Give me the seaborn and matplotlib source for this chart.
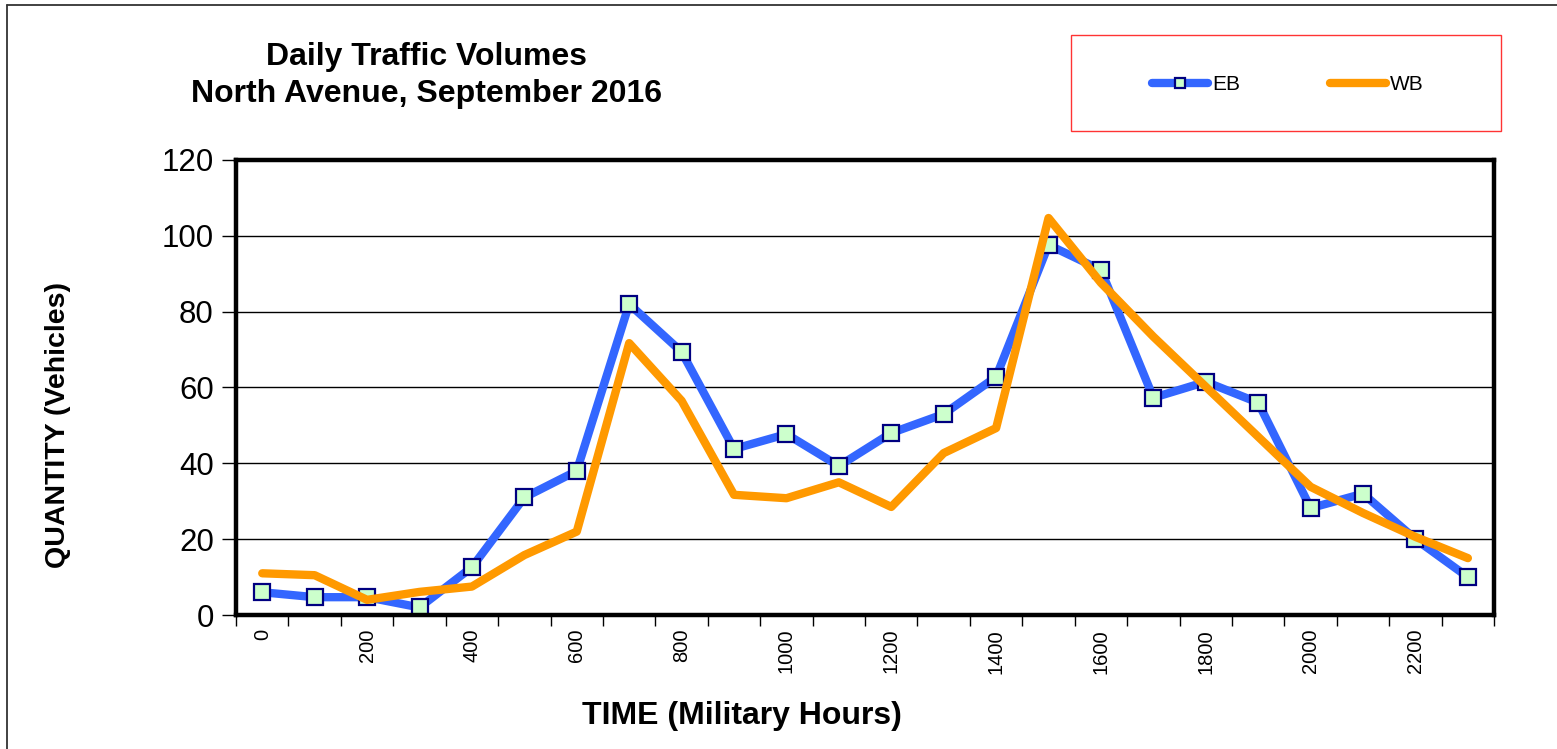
import matplotlib
matplotlib.use("Agg")
import matplotlib.pyplot as plt
from matplotlib.lines import Line2D
from matplotlib.patches import Rectangle
import numpy as np
import pandas as pd
import seaborn as sns

# hourly counts, North Avenue, Sept 2016
hours = [0, 100, 200, 300, 400, 500, 600, 700, 800, 900, 1000, 1100,
         1200, 1300, 1400, 1500, 1600, 1700, 1800, 1900, 2000, 2100, 2200, 2300]
eb = [6, 4.7, 4.7, 2, 12.6, 31, 38, 82, 69.4, 43.8, 47.7, 39.3,
      48, 53, 62.8, 97.6, 91, 57.3, 61.5, 56, 28.2, 32, 20, 10]
wb = [11, 10.5, 4, 6.1, 7.5, 15.8, 22, 71.7, 56.5, 31.7, 30.8, 35,
      28.5, 42.7, 49.3, 104.7, 87.6, 73.4, 60.2, 47, 33.8, 26.9, 20.6, 15]
label_hours = [0, 200, 400, 600, 800, 1000, 1200, 1400, 1600, 1800, 2000, 2200]
y_ticks = [0, 20, 40, 60, 80, 100, 120]

df = pd.DataFrame({"hour": hours, "EB": eb, "WB": wb})

sns.set_style("white")
plt.rcParams['font.family'] = ['Liberation Sans', 'DejaVu Sans']
plt.rcParams['text.color'] = 'black'
plt.rcParams['xtick.color'] = 'black'
plt.rcParams['ytick.color'] = 'black'

fig = plt.figure(figsize=(15.57, 7.49), dpi=100)
ax = fig.add_axes([0.1516, 0.1789, 0.8080, 0.6075])

sns.lineplot(data=df, x="hour", y="EB", ax=ax, color="#3366FF", lw=6,
             marker="s", markersize=12, markerfacecolor="#CCFFCC",
             markeredgecolor="#000080", markeredgewidth=1.6, label="EB",
             legend=False)
sns.lineplot(data=df, x="hour", y="WB", ax=ax, color="#FF9900", lw=6,
             label="WB", legend=False)

ax.set_xlim(-50, 2350)
ax.set_ylim(0, 120)
ax.set_yticks(y_ticks)
ax.yaxis.grid(True, color="black", lw=1)
ax.set_axisbelow(True)

ax.set_xticks(label_hours)
ax.set_xticklabels([str(h) for h in label_hours], rotation=90, fontsize=14.5)
ax.set_xticks(np.arange(-50, 2351, 100), minor=True)
ax.tick_params(axis="x", which="major", length=0, pad=10)
ax.tick_params(axis="x", which="minor", length=8, width=1, direction="out",
               bottom=True)
ax.tick_params(axis="y", labelsize=22.5, length=10, width=1, direction="out",
               left=True, pad=6)
ax.set_xlabel("")
ax.set_ylabel("")

for s in ax.spines.values():
    s.set_linewidth(3.2)
    s.set_color("black")

fig.text(0.274, 0.899, "Daily Traffic Volumes\nNorth Avenue, September 2016",
         ha="center", va="center", fontsize=23, fontweight="bold",
         linespacing=1.32)
fig.text(0.4766, 0.044, "TIME (Military Hours)", ha="center", va="center",
         fontsize=23, fontweight="bold")
fig.text(0.037, 0.4326, "QUANTITY (Vehicles)", ha="center", va="center",
         rotation=90, fontsize=20.5, fontweight="bold")

# legend box
fig.add_artist(Rectangle((0.688, 0.825), 0.276, 0.128, transform=fig.transFigure,
                         fill=False, edgecolor="#FF3333", lw=1))
handles, labels = ax.get_legend_handles_labels()
fig.legend(handles, labels, loc="center", bbox_to_anchor=(0.827, 0.887),
           ncol=2, frameon=False, fontsize=15, handlelength=2.7,
           columnspacing=4.3, handletextpad=0.2, markerscale=0.6)

# outer chart border
fig.add_artist(Line2D([0.0045, 0.0045], [0, 0.993], transform=fig.transFigure,
                      color="#333333", lw=1.3))
fig.add_artist(Line2D([0.0045, 1], [0.993, 0.993], transform=fig.transFigure,
                      color="#333333", lw=1.3))

plt.savefig("out.png", dpi=100)
